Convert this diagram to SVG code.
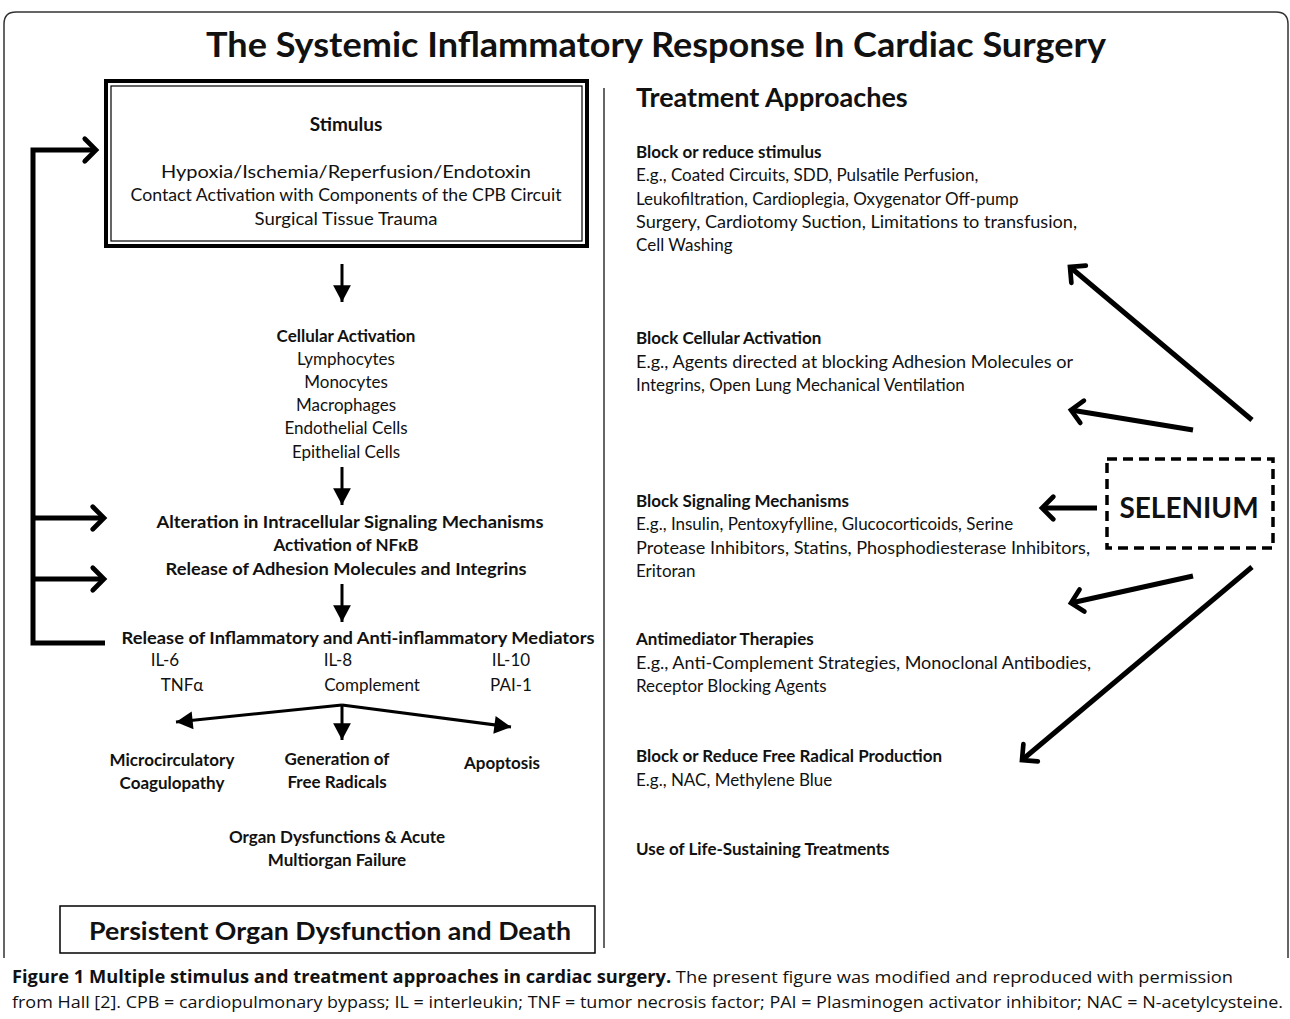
<svg xmlns="http://www.w3.org/2000/svg" width="1290" height="1019" viewBox="0 0 1290 1019">
<defs>
<style>
text{font-family:Lato,"Open Sans","Liberation Sans",sans-serif;fill:#111;}
.t{font-size:34px;font-weight:bold;text-anchor:middle;}
.h{font-size:19px;font-weight:bold;text-anchor:middle;}
.n{font-size:17px;text-anchor:middle;}
.b{font-size:17px;font-weight:bold;text-anchor:middle;}
.rh{font-size:17px;font-weight:bold;}
.rn{font-size:17px;}
.cap{font-family:"Open Sans","Liberation Sans",sans-serif;font-size:17px;}
.thick{stroke:#000;stroke-width:5;fill:none;}
.thin{stroke:#000;stroke-width:3;fill:none;}
</style>
<marker id="chev" markerUnits="userSpaceOnUse" markerWidth="30" markerHeight="30" viewBox="-16 -16 20 32" refX="0" refY="0" orient="auto">
<path d="M-12,-12 L0,0 L-12,12" fill="none" stroke="#000" stroke-width="5" stroke-linecap="round" stroke-linejoin="miter"/>
</marker>
<marker id="tri" markerUnits="userSpaceOnUse" markerWidth="20" markerHeight="20" viewBox="-16 -9 18 18" refX="0" refY="0" orient="auto">
<path d="M-15,-8 L0,0 L-15,8 Z" fill="#000"/>
</marker>
</defs>

<g id="frame">
<path d="M4,958 L4,24 Q4,12 16,12 L1276,12 Q1288,12 1288,24 L1288,958" fill="none" stroke="#333" stroke-width="1.5"/>
<line x1="604" y1="88" x2="604" y2="948" stroke="#333" stroke-width="1.5"/>
<text class="t" x="656" y="57" textLength="900" lengthAdjust="spacingAndGlyphs">The Systemic Inflammatory Response In Cardiac Surgery</text>
</g>

<g id="stimulus">
<rect x="106" y="81" width="481" height="165" fill="#fff" stroke="#000" stroke-width="4"/>
<rect x="111" y="86" width="471" height="155" fill="none" stroke="#000" stroke-width="1.2"/>
<text class="h" x="346" y="131">Stimulus</text>
<text class="n" x="346" y="178" textLength="370" lengthAdjust="spacingAndGlyphs">Hypoxia/Ischemia/Reperfusion/Endotoxin</text>
<text class="n" x="346" y="201" textLength="431" lengthAdjust="spacingAndGlyphs">Contact Activation with Components of the CPB Circuit</text>
<text class="n" x="346" y="225" textLength="183" lengthAdjust="spacingAndGlyphs">Surgical Tissue Trauma</text>
</g>

<g id="cellular">
<text class="b" x="346" y="342">Cellular Activation</text>
<text class="n" x="346" y="365">Lymphocytes</text>
<text class="n" x="346" y="388">Monocytes</text>
<text class="n" x="346" y="411">Macrophages</text>
<text class="n" x="346" y="434">Endothelial Cells</text>
<text class="n" x="346" y="458">Epithelial Cells</text>
</g>

<g id="signaling">
<text class="b" x="350" y="528" textLength="387" lengthAdjust="spacingAndGlyphs">Alteration in Intracellular  Signaling Mechanisms</text>
<text class="b" x="346" y="551">Activation of NFκB</text>
<text class="b" x="346" y="575" textLength="361" lengthAdjust="spacingAndGlyphs">Release of Adhesion Molecules and Integrins</text>
</g>

<g id="mediators">
<text class="b" x="358" y="644" textLength="473" lengthAdjust="spacingAndGlyphs">Release of Inflammatory and Anti-inflammatory Mediators</text>
<text class="n" x="165" y="666">IL-6</text>
<text class="n" x="338" y="666">IL-8</text>
<text class="n" x="511" y="666">IL-10</text>
<text class="n" x="182" y="691">TNFα</text>
<text class="n" x="372" y="691">Complement</text>
<text class="n" x="511" y="691">PAI-1</text>
</g>

<g id="microcirc">
<text class="b" x="172" y="766">Microcirculatory</text>
<text class="b" x="172" y="789">Coagulopathy</text>
</g>
<g id="radicals">
<text class="b" x="337" y="765">Generation of</text>
<text class="b" x="337" y="788">Free Radicals</text>
</g>
<g id="apoptosis">
<text class="b" x="502" y="769">Apoptosis</text>
</g>
<g id="organ">
<text class="b" x="337" y="843">Organ Dysfunctions &amp; Acute</text>
<text class="b" x="337" y="866">Multiorgan Failure</text>
</g>
<g id="persistent">
<rect x="60" y="906" width="535" height="47" fill="#fff" stroke="#000" stroke-width="1.5"/>
<text x="330" y="940" style="font-size:24px;font-weight:bold;text-anchor:middle" textLength="482" lengthAdjust="spacingAndGlyphs">Persistent Organ Dysfunction and Death</text>
</g>

<g id="treatment">
<text x="636" y="107" style="font-size:27px;font-weight:bold">Treatment Approaches</text>
</g>
<g id="t-stimulus">
<text class="rh" x="636" y="158">Block or reduce stimulus</text>
<text class="rn" x="636" y="181">E.g., Coated Circuits, SDD, Pulsatile Perfusion,</text>
<text class="rn" x="636" y="205">Leukofiltration, Cardioplegia, Oxygenator Off-pump</text>
<text class="rn" x="636" y="228" textLength="441" lengthAdjust="spacingAndGlyphs">Surgery, Cardiotomy Suction, Limitations to transfusion,</text>
<text class="rn" x="636" y="251">Cell Washing</text>
</g>
<g id="t-cellular">
<text class="rh" x="636" y="344">Block Cellular Activation</text>
<text class="rn" x="636" y="368" textLength="437" lengthAdjust="spacingAndGlyphs">E.g., Agents directed at blocking Adhesion Molecules or</text>
<text class="rn" x="636" y="391">Integrins, Open Lung Mechanical Ventilation</text>
</g>
<g id="t-signaling">
<text class="rh" x="636" y="507">Block Signaling Mechanisms</text>
<text class="rn" x="636" y="530">E.g., Insulin, Pentoxyfylline, Glucocorticoids, Serine</text>
<text class="rn" x="636" y="554" textLength="454" lengthAdjust="spacingAndGlyphs">Protease Inhibitors, Statins, Phosphodiesterase Inhibitors,</text>
<text class="rn" x="636" y="577">Eritoran</text>
</g>
<g id="t-antimediator">
<text class="rh" x="636" y="645">Antimediator Therapies</text>
<text class="rn" x="636" y="669" textLength="455" lengthAdjust="spacingAndGlyphs">E.g., Anti-Complement Strategies, Monoclonal Antibodies,</text>
<text class="rn" x="636" y="692">Receptor Blocking Agents</text>
</g>
<g id="t-radical">
<text class="rh" x="636" y="762">Block or Reduce Free Radical Production</text>
<text class="rn" x="636" y="786">E.g., NAC, Methylene Blue</text>
</g>
<g id="t-life">
<text class="rh" x="636" y="855">Use of Life-Sustaining Treatments</text>
</g>

<g id="selenium">
<rect x="1107" y="459" width="166" height="89" fill="none" stroke="#000" stroke-width="3.5" stroke-dasharray="10,6"/>
<text x="1189" y="518" style="font-size:28px;font-weight:bold;text-anchor:middle">SELENIUM</text>
</g>

<g id="connectors">
<polyline class="thick" points="105,643 33,643 33,150 96,150" marker-end="url(#chev)"/>
<line class="thick" x1="33" y1="518" x2="104" y2="518" marker-end="url(#chev)"/>
<line class="thick" x1="33" y1="579" x2="104" y2="579" marker-end="url(#chev)"/>
<line class="thin" x1="342" y1="264" x2="342" y2="302" marker-end="url(#tri)"/>
<line class="thin" x1="342" y1="467" x2="342" y2="505" marker-end="url(#tri)"/>
<line class="thin" x1="342" y1="584" x2="342" y2="622" marker-end="url(#tri)"/>
<line class="thin" x1="342" y1="705" x2="176" y2="722" marker-end="url(#tri)"/>
<line class="thin" x1="342" y1="705" x2="511" y2="727" marker-end="url(#tri)"/>
<line class="thin" x1="342" y1="705" x2="342" y2="740" marker-end="url(#tri)"/>
<line class="thick" x1="1252" y1="420" x2="1070" y2="267" marker-end="url(#chev)"/>
<line class="thick" x1="1193" y1="430" x2="1071" y2="410" marker-end="url(#chev)"/>
<line class="thick" x1="1097" y1="508" x2="1042" y2="508" marker-end="url(#chev)"/>
<line class="thick" x1="1193" y1="576" x2="1071" y2="603" marker-end="url(#chev)"/>
<line class="thick" x1="1252" y1="567" x2="1022" y2="760" marker-end="url(#chev)"/>
</g>

<g id="caption">
<text class="cap" x="12" y="983" textLength="1221" lengthAdjust="spacingAndGlyphs"><tspan font-weight="bold">Figure 1 Multiple stimulus and treatment approaches in cardiac surgery.</tspan> The present figure was modified and reproduced with permission</text>
<text class="cap" x="12" y="1008" textLength="1271" lengthAdjust="spacingAndGlyphs">from Hall [2]. CPB = cardiopulmonary bypass; IL = interleukin; TNF = tumor necrosis factor; PAI = Plasminogen activator inhibitor; NAC = N-acetylcysteine.</text>
</g>
</svg>
